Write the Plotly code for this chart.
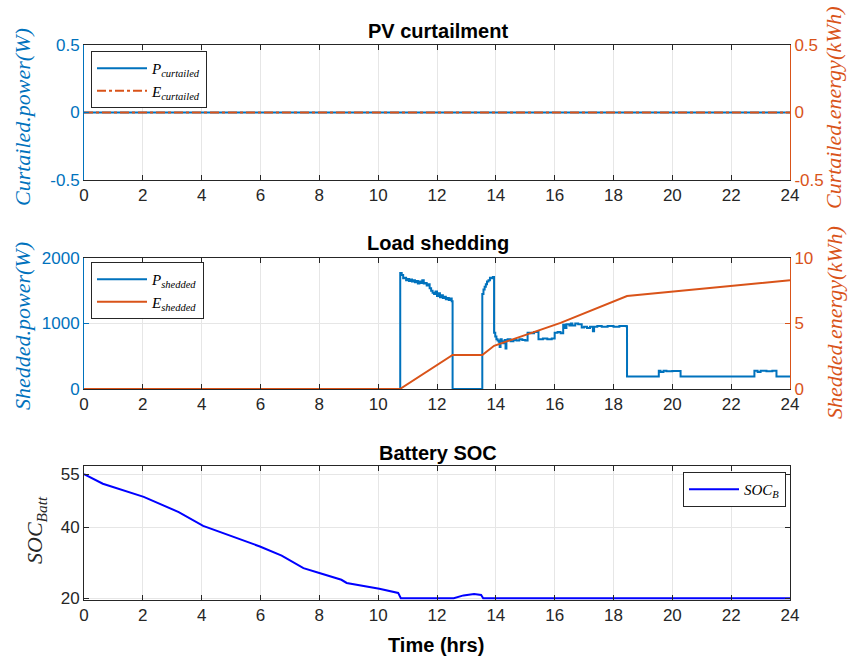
import plotly.graph_objects as go

# ---------------- data ----------------
hours_curt = [0, 24]
p_curtailed = [0, 0]
e_curtailed = [0, 0]

t_shed = [0, 10.74, 10.75, 10.80, 10.85, 10.90, 10.95, 11.00, 11.05, 11.10, 11.15, 11.20,
          11.25, 11.30, 11.35, 11.40, 11.45, 11.50, 11.55, 11.60, 11.65, 11.70, 11.75,
          11.80, 11.85, 11.90, 11.95, 12.00, 12.05, 12.10, 12.15, 12.20, 12.25, 12.30,
          12.35, 12.40, 12.45, 12.50, 12.53, 13.54, 13.58, 13.62, 13.66, 13.70, 13.75,
          13.80, 13.85, 13.90, 13.94, 13.98, 14.02, 14.06, 14.10, 14.13, 14.16, 14.20,
          14.25, 14.30, 14.33, 14.36, 14.40, 14.50, 14.60, 14.70, 14.80, 14.90, 15.00,
          15.08, 15.20, 15.30, 15.45, 15.60, 15.75, 15.90, 16.00, 16.10, 16.20, 16.29,
          16.35, 16.40, 16.50, 16.55, 16.60, 16.70, 16.80, 16.92, 17.00, 17.10, 17.20,
          17.30, 17.34, 17.45, 17.60, 17.80, 18.00, 18.20, 18.45, 18.46, 19.54, 19.60,
          19.70, 19.80, 20.00, 20.28, 22.79, 22.90, 23.00, 23.20, 23.40, 23.54, 24.00]
p_shedded = [0, 0, 1770, 1740, 1690, 1700, 1660, 1680, 1650, 1670, 1640, 1660,
             1630, 1650, 1610, 1640, 1620, 1660, 1610, 1620, 1580, 1600, 1540,
             1500, 1470, 1450, 1490, 1420, 1460, 1400, 1430, 1390, 1410, 1370,
             1390, 1360, 1380, 1340, 0, 1450, 1520, 1560, 1600, 1640, 1660,
             1700, 1690, 1710, 860, 800, 760, 740, 720, 640, 760, 730,
             700, 750, 620, 740, 760, 730, 750, 740, 760, 750, 740,
             860, 850, 870, 760, 770, 760, 770, 860, 870, 850, 980,
             930, 990, 970, 1000, 970, 1000, 990, 940, 950, 930, 950,
             880, 950, 960, 950, 960, 950, 960, 950, 190, 280, 260,
             280, 270, 275, 190, 280, 260, 280, 270, 280, 190, 190]

t_energy = [0, 10.74, 12.53, 13.54, 13.94, 16.2, 18.46, 20.05, 24]
e_shedded = [0, 0, 2.6, 2.6, 3.3, 5.05, 7.1, 7.45, 8.3]

t_soc = [0, 0.64, 2.03, 3.22, 4.05, 5.98, 6.72, 7.46, 8.0, 8.75, 8.93, 10.04,
         10.68, 10.77, 12.57, 12.9, 13.26, 13.5, 13.57, 24]
soc_b = [55, 52.3, 48.6, 44.3, 40.4, 34.6, 32.0, 28.5, 27.1, 25.2, 24.3, 22.7,
         21.5, 20.0, 20.0, 20.8, 21.2, 20.9, 20.0, 20.0]

x_ticks = list(range(0, 25, 2))

# ---------------- styling ----------------
W, H = 848, 662
BLUE = "#0072BD"
ORANGE = "#D95319"
DARK = "#262626"
GRID = "#e6e6e6"
SANS = "Liberation Sans, Arial, sans-serif"
SERIF = "Liberation Serif, Times New Roman, serif"

x0, x1 = 84, 790


def xdom():
    return [x0 / W, x1 / W]


def ydom(top, bottom):
    return [(H - bottom) / H, (H - top) / H]


def px(x):
    return x / W


def py(y):
    return (H - y) / H


fig = go.Figure()

# PV curtailment
fig.add_trace(go.Scatter(x=hours_curt, y=p_curtailed, mode="lines",
                         line=dict(color=BLUE, width=2),
                         name="<i>P</i><sub><i>curtailed</i></sub>",
                         xaxis="x", yaxis="y", legend="legend"))
fig.add_trace(go.Scatter(x=hours_curt, y=e_curtailed, mode="lines",
                         line=dict(color=ORANGE, width=2, dash="dashdot"),
                         name="<i>E</i><sub><i>curtailed</i></sub>",
                         xaxis="x", yaxis="y2", legend="legend"))

# Load shedding
fig.add_trace(go.Scatter(x=t_shed, y=p_shedded, mode="lines",
                         line=dict(color=BLUE, width=2, shape="hv"),
                         name="<i>P</i><sub><i>shedded</i></sub>",
                         xaxis="x2", yaxis="y3", legend="legend2"))
fig.add_trace(go.Scatter(x=t_energy, y=e_shedded, mode="lines",
                         line=dict(color=ORANGE, width=2),
                         name="<i>E</i><sub><i>shedded</i></sub>",
                         xaxis="x2", yaxis="y4", legend="legend2"))

# Battery SOC
fig.add_trace(go.Scatter(x=t_soc, y=soc_b, mode="lines",
                         line=dict(color="#0000FF", width=2),
                         name="<i>SOC</i><sub><i>B</i></sub>",
                         xaxis="x3", yaxis="y5", legend="legend3"))

TICK_SIZE = 17
tickfont = dict(family=SANS, size=TICK_SIZE, color=DARK)


def x_axis(anchor):
    return dict(domain=xdom(), anchor=anchor, range=[0, 24], tickvals=x_ticks,
                ticks="inside", ticklen=5, tickcolor=DARK, showline=True,
                linecolor=DARK, linewidth=1, mirror="ticks", showgrid=True,
                gridcolor=GRID, zeroline=False, tickfont=tickfont,
                automargin=False)


def y_axis(dom, rng, tickvals, ticktext, color, side="left", overlay=None,
           anchor=None, grid=True, mirror=False):
    d = dict(range=rng, tickvals=tickvals, ticktext=ticktext, ticks="inside",
             ticklen=5, tickcolor=color, showline=True, linecolor=color,
             linewidth=1, showgrid=grid, gridcolor=GRID, zeroline=False,
             side=side, automargin=False,
             tickfont=dict(family=SANS, size=TICK_SIZE, color=color))
    if overlay:
        d["overlaying"] = overlay
        d["anchor"] = anchor
    else:
        d["domain"] = dom
        d["anchor"] = anchor
    if mirror:
        d["mirror"] = "ticks"
    return d


dom1 = ydom(45, 180)
dom2 = ydom(258, 389)
dom3 = ydom(466, 600)

legend_style = dict(bgcolor="white", bordercolor=DARK, borderwidth=1,
                    tracegroupgap=0, itemwidth=50,
                    font=dict(family=SERIF, size=15, color="black"))

fig.update_layout(
    width=W, height=H,
    margin=dict(l=0, r=0, t=0, b=0, autoexpand=False),
    paper_bgcolor="white", plot_bgcolor="white",
    xaxis=x_axis("y"),
    xaxis2=x_axis("y3"),
    xaxis3=x_axis("y5"),
    yaxis=y_axis(dom1, [-0.5, 0.5], [-0.5, 0, 0.5], ["-0.5", "0", "0.5"], BLUE, anchor="x"),
    yaxis2=y_axis(None, [-0.5, 0.5], [-0.5, 0, 0.5], ["-0.5", "0", "0.5"], ORANGE,
                  side="right", overlay="y", anchor="x", grid=False),
    yaxis3=y_axis(dom2, [0, 2000], [0, 1000, 2000], ["0", "1000", "2000"], BLUE, anchor="x2"),
    yaxis4=y_axis(None, [0, 10], [0, 5, 10], ["0", "5", "10"], ORANGE,
                  side="right", overlay="y3", anchor="x2", grid=False),
    yaxis5=y_axis(dom3, [19.5, 57.3], [20, 40, 55], ["20", "40", "55"], DARK,
                  anchor="x3", mirror=True),
    showlegend=True,
    legend=dict(x=px(91), y=py(51), xanchor="left", yanchor="top", **legend_style),
    legend2=dict(x=px(91), y=py(262), xanchor="left", yanchor="top", **legend_style),
    legend3=dict(x=px(786), y=py(472), xanchor="right", yanchor="top", **legend_style),
)

annotations = [
    dict(text="<b>PV curtailment</b>", x=px(438), y=py(31)),
    dict(text="<b>Load shedding</b>", x=px(438), y=py(243)),
    dict(text="<b>Battery SOC</b>", x=px(438), y=py(453)),
    dict(text="<b>Time (hrs)</b>", x=px(436), y=py(645)),
]
for a in annotations:
    fig.add_annotation(xref="paper", yref="paper", showarrow=False,
                       xanchor="center", yanchor="middle",
                       font=dict(family=SANS, size=20, color="black"), **a)

ylabels = [
    ("<i>Curtailed.power(W)</i>", 22, 117, BLUE),
    ("<i>Curtailed.energy(kWh)</i>", 834, 108, ORANGE),
    ("<i>Shedded.power(W)</i>", 22, 326, BLUE),
    ("<i>Shedded.energy(kWh)</i>", 834, 323, ORANGE),
    ("<i>SOC</i><sub><i>Batt</i></sub>", 36, 530, DARK),
]
for text, xx, yy, col in ylabels:
    fig.add_annotation(xref="paper", yref="paper", showarrow=False,
                       x=px(xx), y=py(yy), xanchor="center", yanchor="middle",
                       textangle=-90, text=text,
                       font=dict(family=SERIF, size=22, color=col))

fig.write_html("out.html")
